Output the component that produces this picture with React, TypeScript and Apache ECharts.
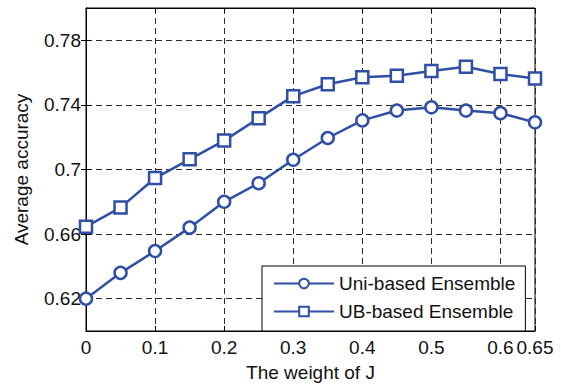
import React, { useEffect, useRef } from "react";
import * as echarts from "echarts";

const weights = [0, 0.05, 0.1, 0.15, 0.2, 0.25, 0.3, 0.35, 0.4, 0.45, 0.5, 0.55, 0.6, 0.65];
const uniBased = [0.62, 0.636, 0.6495, 0.664, 0.680, 0.6915, 0.706, 0.7195, 0.7304, 0.7365, 0.7385, 0.7365, 0.7349, 0.7292];
const ubBased = [0.6646, 0.6764, 0.6947, 0.7063, 0.7179, 0.7318, 0.7454, 0.7528, 0.7571, 0.7581, 0.761, 0.7636, 0.7591, 0.7564];
const xTicks = [0, 0.1, 0.2, 0.3, 0.4, 0.5, 0.6, 0.65];
const yTicks = [0.62, 0.66, 0.7, 0.74, 0.78];

const BLUE = "#2f4fa6";
const FONT = "Liberation Sans, Arial, sans-serif";
const FS = 19;

export default function App() {
  const ref = useRef<HTMLDivElement>(null);
  useEffect(() => {
    if (!ref.current) return;
    const chart = echarts.init(ref.current, undefined, { renderer: "svg" });
    const fmt = (v: number) => String(Number(v.toFixed(2)));
    chart.setOption({
      animation: false,
      backgroundColor: "#fff",
      textStyle: { fontFamily: FONT },
      grid: { left: 86, right: 26, top: 8, bottom: 50, show: true, borderColor: "#000", borderWidth: 1, backgroundColor: "transparent" },
      legend: {
        orient: "vertical",
        left: 262,
        top: 266,
        backgroundColor: "#fff",
        borderColor: "#000",
        borderWidth: 1,
        borderRadius: 0,
        padding: [8, 10, 10, 11],
        itemWidth: 60,
        itemHeight: 12,
        itemGap: 9,
        textStyle: { fontSize: FS, color: "#111", fontFamily: FONT },
        data: ["Uni-based Ensemble", "UB-based Ensemble"],
      },
      xAxis: [
        {
          type: "value",
          min: 0,
          max: 0.65,
          interval: 0.1,
          name: "The weight of J",
          nameLocation: "middle",
          nameGap: 32,
          nameTextStyle: { fontSize: FS, color: "#111", fontFamily: FONT },
          axisLine: { show: true, lineStyle: { color: "#000", width: 1 } },
          axisTick: { show: true, inside: true, length: 5, lineStyle: { color: "#000" }, customValues: xTicks },
          axisLabel: { fontSize: FS, color: "#111", margin: 7, formatter: fmt, customValues: xTicks, fontFamily: FONT },
          splitLine: { show: true, lineStyle: { color: "#2a2a2a", type: [6, 4], width: 1 } },
        },
        {
          type: "value",
          position: "top",
          min: 0,
          max: 0.65,
          interval: 0.1,
          axisLine: { show: true, lineStyle: { color: "#000", width: 1 } },
          axisTick: { show: true, inside: true, length: 5, lineStyle: { color: "#000" }, customValues: xTicks },
          axisLabel: { show: false },
          splitLine: { show: false },
        },
      ],
      yAxis: [
        {
          type: "value",
          min: 0.6,
          max: 0.8,
          interval: 0.02,
          name: "Average accuracy",
          nameLocation: "middle",
          nameGap: 55,
          nameTextStyle: { fontSize: FS, color: "#111", fontFamily: FONT },
          axisLine: { show: true, lineStyle: { color: "#000", width: 1 } },
          axisTick: { show: true, inside: true, length: 5, lineStyle: { color: "#000" }, customValues: yTicks },
          axisLabel: { fontSize: FS, color: "#111", margin: 5, formatter: fmt, customValues: yTicks, fontFamily: FONT },
          splitLine: { show: true, lineStyle: { color: "#2a2a2a", type: [6, 4], width: 1 } },
        },
        {
          type: "value",
          position: "right",
          min: 0.6,
          max: 0.8,
          interval: 0.02,
          axisLine: { show: true, lineStyle: { color: "#000", width: 1 } },
          axisTick: { show: true, inside: true, length: 5, lineStyle: { color: "#000" }, customValues: yTicks },
          axisLabel: { show: false },
          splitLine: { show: false },
        },
      ],
      series: [
        {
          name: "Uni-based Ensemble",
          type: "line",
          data: weights.map((w, i) => [w, uniBased[i]]),
          symbol: "circle",
          symbolSize: 12,
          itemStyle: { color: "#fff", borderColor: BLUE, borderWidth: 2.5 },
          lineStyle: { color: BLUE, width: 2.5 },
          z: 5,
        },
        {
          name: "UB-based Ensemble",
          type: "line",
          data: weights.map((w, i) => [w, ubBased[i]]),
          symbol: "rect",
          symbolSize: 12,
          itemStyle: { color: "#fff", borderColor: BLUE, borderWidth: 2.5 },
          lineStyle: { color: BLUE, width: 2.5 },
          z: 5,
        },
      ],
    });
    return () => chart.dispose();
  }, []);
  return <div ref={ref} style={{ width: 561, height: 387, position: "absolute", left: 0, top: 0 }} />;
}
